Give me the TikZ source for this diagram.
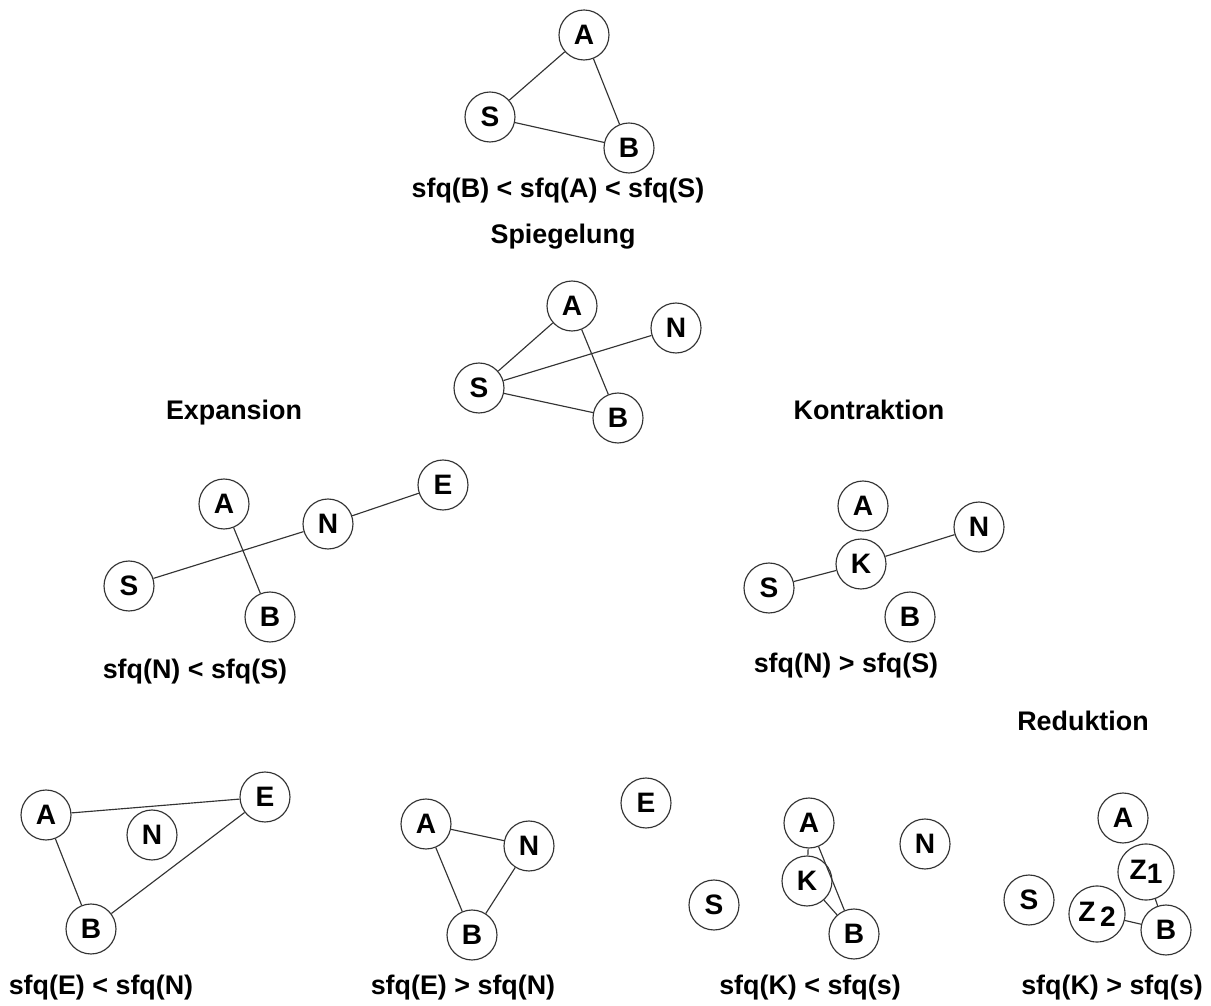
\documentclass[tikz,border=0pt]{standalone}
\usepackage{fontspec}
\setmainfont{Liberation Sans}
\begin{document}
\begin{tikzpicture}[x=0.02cm,y=-0.02cm,
  vtx/.style={circle,draw=black!80,line width=0.65pt,minimum size=1cm,inner sep=0pt,
    font=\fontsize{16}{18}\selectfont\bfseries},
  bigvtx/.style={vtx,minimum size=1.12cm},
  lbl/.style={anchor=base,inner sep=0pt,font=\fontsize{15.3}{18}\selectfont\bfseries},
  edge/.style={draw=black!80,line width=0.65pt}]
\useasboundingbox (0,0) rectangle (1211,1006);

% top: original triangle
\node[vtx] (tA) at (584,35) {A};
\node[vtx] (tS) at (490,117) {S};
\node[vtx] (tB) at (629,148) {B};
\draw[edge] (tS) -- (tA) (tA) -- (tB) (tS) -- (tB);
\node[lbl] (t1) at (558,198) {sfq(B) < sfq(A) < sfq(S)};
\node[lbl] (t2) at (563,244) {Spiegelung};

% mirrored
\node[vtx] (mA) at (572,306) {A};
\node[vtx] (mN) at (676,328) {N};
\node[vtx] (mS) at (479,388) {S};
\node[vtx] (mB) at (618,418) {B};
\draw[edge] (mS) -- (mA) (mS) -- (mN) (mS) -- (mB) (mA) -- (mB);

\node[lbl] (lexp) at (234,420) {Expansion};
\node[lbl] (lkon) at (869,420) {Kontraktion};

% expansion
\node[vtx] (eA) at (224,504) {A};
\node[vtx] (eN) at (328,524) {N};
\node[vtx] (eE) at (443,485) {E};
\node[vtx] (eS) at (129,586) {S};
\node[vtx] (eB) at (270,617) {B};
\draw[edge] (eS) -- (eN) (eN) -- (eE) (eA) -- (eB);
\node[lbl] (le) at (195,679) {sfq(N) < sfq(S)};

% contraction
\node[vtx] (kA) at (863,506) {A};
\node[vtx] (kN) at (979,527) {N};
\node[vtx] (kK) at (861,564) {K};
\node[vtx] (kS) at (769,588) {S};
\node[vtx] (kB) at (910,617) {B};
\draw[edge] (kS) -- (kK) (kK) -- (kN);
\node[lbl] (lk) at (846,673) {sfq(N) > sfq(S)};

\node[lbl] (lred) at (1083,730) {Reduktion};

% bottom 1
\node[vtx] (aA) at (46,815) {A};
\node[vtx] (aN) at (152,835) {N};
\node[vtx] (aE) at (265,797) {E};
\node[vtx] (aB) at (91,929) {B};
\draw[edge] (aA) -- (aE) (aA) -- (aB) (aB) -- (aE);
\node[lbl] (la) at (101,994) {sfq(E) < sfq(N)};

% bottom 2
\node[vtx] (bA) at (426,824) {A};
\node[vtx] (bN) at (529,846) {N};
\node[vtx] (bB) at (472,935) {B};
\draw[edge] (bA) -- (bN) (bA) -- (bB) (bN) -- (bB);
\node[lbl] (lb) at (463,994) {sfq(E) > sfq(N)};

% bottom 3
\node[vtx] (cE) at (646,803) {E};
\node[vtx] (cA) at (809,823) {A};
\node[vtx] (cK) at (807,881) {K};
\node[vtx] (cN) at (925,844) {N};
\node[vtx] (cS) at (714,905) {S};
\node[vtx] (cB) at (854,934) {B};
\draw[edge] (cA) -- (cK) (cA) -- (cB) (cK) -- (cB);
\node[lbl] (lc) at (810,994) {sfq(K) < sfq(s)};

% bottom 4
\node[vtx] (dA) at (1123,818) {A};
\node[bigvtx] (dZ1) at (1146,872) {Z\raisebox{-2pt}{1}};
\node[vtx] (dS) at (1029,900) {S};
\node[bigvtx] (dZ2) at (1097,914) {Z\,\raisebox{-3pt}{2}};
\node[vtx] (dB) at (1166,930) {B};
\draw[edge] (dZ1) -- (dB) (dZ2) -- (dB);
\node[lbl] (ld) at (1112,994) {sfq(K) > sfq(s)};
\end{tikzpicture}
\end{document}
